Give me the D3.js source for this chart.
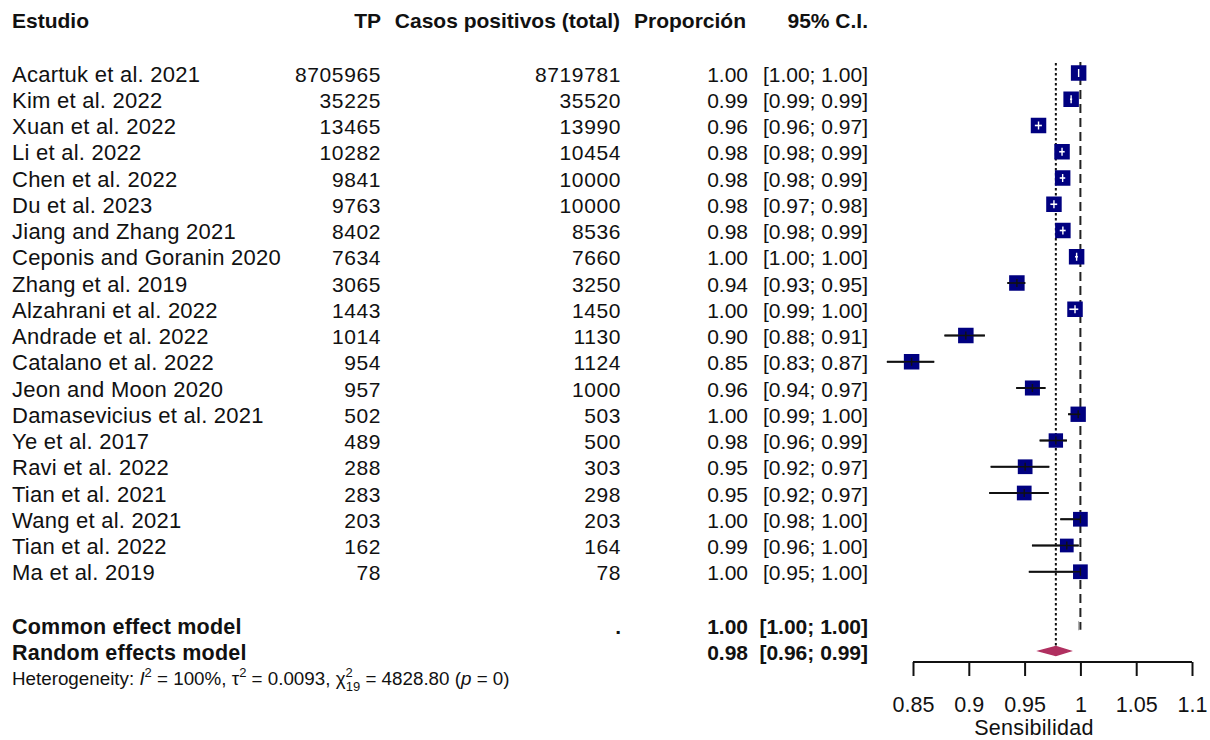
<!DOCTYPE html>
<html lang="es">
<head>
<meta charset="utf-8">
<title>Forest plot - Sensibilidad</title>
<script src="https://cdn.jsdelivr.net/npm/d3@7"></script>
<style>
  body { margin: 0; background: #fff; }
  svg text { font-family: "Liberation Sans", Arial, sans-serif; fill: #111; }
</style>
</head>
<body>
<svg id="forest" width="1210" height="740"></svg>
<script>
// ---- data ----
var studies = ["Acartuk et al. 2021", "Kim et al. 2022", "Xuan et al. 2022", "Li et al. 2022",
  "Chen et al. 2022", "Du et al. 2023", "Jiang and Zhang 2021", "Ceponis and Goranin 2020",
  "Zhang et al. 2019", "Alzahrani et al. 2022", "Andrade et al. 2022", "Catalano et al. 2022",
  "Jeon and Moon 2020", "Damasevicius et al. 2021", "Ye et al. 2017", "Ravi et al. 2022",
  "Tian et al. 2021", "Wang et al. 2021", "Tian et al. 2022", "Ma et al. 2019"];
var tp = [8705965, 35225, 13465, 10282, 9841, 9763, 8402, 7634, 3065, 1443,
  1014, 954, 957, 502, 489, 288, 283, 203, 162, 78];
var total = [8719781, 35520, 13990, 10454, 10000, 10000, 8536, 7660, 3250, 1450,
  1130, 1124, 1000, 503, 500, 303, 298, 203, 164, 78];
var ciLow = [0.9984, 0.9907, 0.9592, 0.9810, 0.9815, 0.9731, 0.9815, 0.9952, 0.9346, 0.9901,
  0.8782, 0.8266, 0.9425, 0.9890, 0.9635, 0.9196, 0.9183, 0.9820, 0.9566, 0.9538];
var ciHigh = [0.9985, 0.9926, 0.9655, 0.9859, 0.9864, 0.9792, 0.9868, 0.9978, 0.9506, 0.9981,
  0.9144, 0.8690, 0.9687, 0.99995, 0.9879, 0.9721, 0.9716, 1.0, 0.9985, 1.0];
// approximate weights (%) -> square size
var weights = [5.1, 5.1, 5.1, 5.1, 5.1, 5.1, 5.1, 5.1, 5.1, 5.1,
  5.1, 5.1, 4.8, 5.0, 4.4, 4.6, 4.6, 4.6, 4.0, 4.6];

var pooledLabels = ["Common effect model", "Random effects model"];
var pooledEst = [0.9984, 0.978];
var pooledLow = [0.9984, 0.963];
var pooledHigh = [0.9985, 0.991];

var headers = ["Estudio", "TP", "Casos positivos (total)", "Proporción", "95% C.I."];
var xTicks = [0.85, 0.9, 0.95, 1, 1.05, 1.1];
var xLabel = "Sensibilidad";

// ---- layout ----
var svg = d3.select("#forest");
var fs = 21;
var col = { name: 12, tp: 381, total: 621, prop: 748, ci: 868 };

var x = d3.scaleLinear().domain([0.85, 1.1]).range([913, 1192]);
var y = d3.scaleLinear().domain([0, 19]).range([73, 571.75]);
var side = d3.scaleSqrt().domain([0, 5.1]).range([0, 15.5]);
var f2 = d3.format(".2f");

var rows = studies.map(function(s, i) {
  return { name: s, tp: tp[i], total: total[i], p: tp[i] / total[i],
           lo: ciLow[i], hi: ciHigh[i], w: weights[i], i: i };
});

// header
var hx = [col.name, col.tp, col.total - 1, col.prop - 2, col.ci];
svg.append("g").selectAll("text").data(headers).enter().append("text")
  .attr("x", function(d, i) { return hx[i]; })
  .attr("y", 28)
  .attr("text-anchor", function(d, i) { return i == 0 ? "start" : "end"; })
  .style("font-size", "21px").style("font-weight", "bold")
  .text(function(d) { return d; });

// study text columns
var tg = svg.append("g").style("font-size", fs + "px");
rows.forEach(function(d) {
  var by = y(d.i) + 8.5;
  tg.append("text").attr("x", col.name).attr("y", by)
    .style("font-size", "22px").style("letter-spacing", "0.25px").text(d.name);
  tg.append("text").attr("x", col.tp).attr("y", by).attr("text-anchor", "end")
    .style("letter-spacing", "0.6px").text(d.tp);
  tg.append("text").attr("x", col.total).attr("y", by).attr("text-anchor", "end")
    .style("letter-spacing", "0.6px").text(d.total);
  tg.append("text").attr("x", col.prop).attr("y", by).attr("text-anchor", "end").text(f2(d.p));
  tg.append("text").attr("x", col.ci).attr("y", by).attr("text-anchor", "end")
    .text("[" + f2(d.lo) + "; " + f2(d.hi) + "]");
});

// pooled rows
var py = [y(21) + 1.5, y(22) + 0.5];
var pg = svg.append("g").style("font-size", "21px").style("font-weight", "bold");
pooledLabels.forEach(function(lab, k) {
  var by = py[k] + 8.5;
  pg.append("text").attr("x", col.name).attr("y", by)
    .style("font-size", "21.5px").style("letter-spacing", "0.2px").text(lab);
  pg.append("text").attr("x", col.prop).attr("y", by).attr("text-anchor", "end").text(f2(pooledEst[k]));
  pg.append("text").attr("x", col.ci).attr("y", by).attr("text-anchor", "end")
    .text("[" + f2(pooledLow[k]) + "; " + f2(pooledHigh[k]) + "]");
});
pg.append("text").attr("x", col.total).attr("y", py[0] + 8.5).attr("text-anchor", "end").text(".");

// heterogeneity
var het = svg.append("text").attr("x", 12).attr("y", 685).style("font-size", "18.8px");
het.append("tspan").text("Heterogeneity: ");
het.append("tspan").style("font-style", "italic").text("I");
het.append("tspan").attr("dy", -8).style("font-size", "13px").text("2");
het.append("tspan").attr("dy", 8).text(" = 100%, \u03c4");
het.append("tspan").attr("dy", -8).style("font-size", "13px").text("2");
het.append("tspan").attr("dy", 8).text(" = 0.0093, \u03c7");
het.append("tspan").attr("dy", -8).style("font-size", "13px").text("2");
het.append("tspan").attr("dx", -7).attr("dy", 14).style("font-size", "13px").text("19");
het.append("tspan").attr("dy", -6).text(" = 4828.80 (");
het.append("tspan").style("font-style", "italic").text("p");
het.append("tspan").text(" = 0)");

// reference lines
svg.append("line")
  .attr("x1", x(1)).attr("x2", x(1)).attr("y1", 62).attr("y2", py[0] + 4)
  .attr("stroke", "#222").attr("stroke-width", 2).attr("stroke-dasharray", "9,5");
svg.append("line")
  .attr("x1", x(pooledEst[1])).attr("x2", x(pooledEst[1])).attr("y1", 63).attr("y2", py[1] - 4)
  .attr("stroke", "#111").attr("stroke-width", 2).attr("stroke-dasharray", "2.5,2.5");

// CI lines and squares
var mg = svg.append("g");
rows.forEach(function(d) {
  var cy = y(d.i), s = side(d.w);
  var cx = x(Math.min(d.p, 1));
  var inside = x(d.lo) >= cx - s / 2 && x(d.hi) <= cx + s / 2;
  if (!inside) {
    mg.append("line").attr("x1", x(d.lo)).attr("x2", x(d.hi)).attr("y1", cy).attr("y2", cy)
      .attr("stroke", "#111").attr("stroke-width", 2);
  }
  mg.append("rect").attr("x", cx - s / 2).attr("y", cy - s / 2).attr("width", s).attr("height", s)
    .attr("fill", "#000080");
  var ic = inside ? "#fff" : "#111";
  mg.append("line").attr("x1", x(d.lo)).attr("x2", x(d.hi)).attr("y1", cy).attr("y2", cy)
    .attr("stroke", ic).attr("stroke-width", 1.6);
  mg.append("line").attr("x1", cx).attr("x2", cx).attr("y1", cy - 4).attr("y2", cy + 4)
    .attr("stroke", ic).attr("stroke-width", 1.4);
});

// random-effects diamond
var dy = py[1];
svg.append("polygon")
  .attr("points", [[x(pooledLow[1]), dy], [x(pooledEst[1]), dy - 4.5],
                   [x(pooledHigh[1]), dy], [x(pooledEst[1]), dy + 4.5]].join(" "))
  .attr("fill", "#b03060").attr("stroke", "#b03060").attr("stroke-width", 1.5);
// common-effect diamond (very narrow)
svg.append("polygon")
  .attr("points", [[x(pooledLow[0]), py[0]], [x(pooledEst[0]), py[0] - 4.5],
                   [x(pooledHigh[0]), py[0]], [x(pooledEst[0]), py[0] + 4.5]].join(" "))
  .attr("fill", "#888").attr("stroke", "#888").attr("stroke-width", 0.5);

// x axis
var axis = svg.append("g").attr("transform", "translate(0,662)")
  .call(d3.axisBottom(x).tickValues(xTicks).tickSize(14).tickPadding(21)
    .tickFormat(d3.format("~g")));
axis.select(".domain").attr("stroke", "#111").attr("stroke-width", 2).attr("d", "M" + x(0.85) + ",0H" + x(1.1));
axis.selectAll(".tick line").attr("stroke", "#111").attr("stroke-width", 2);
axis.selectAll(".tick text").style("font-size", "21.5px")
  .style("font-family", "'Liberation Sans', Arial, sans-serif").attr("fill", "#111");

svg.append("text").attr("x", 1034).attr("y", 735).attr("text-anchor", "middle")
  .style("font-size", "21.5px").style("letter-spacing", "0.3px").text(xLabel);
</script>
</body>
</html>
